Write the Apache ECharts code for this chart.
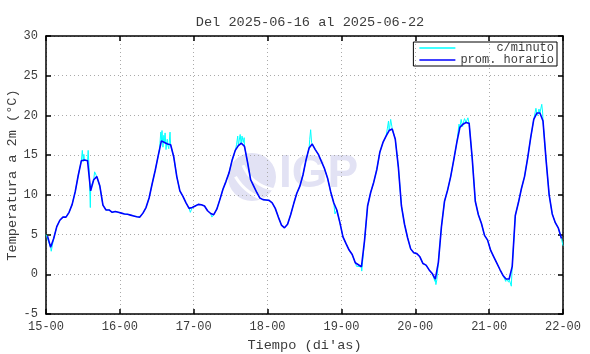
<!DOCTYPE html>
<html>
<head>
<meta charset="utf-8">
<script src="https://cdn.jsdelivr.net/npm/echarts/dist/echarts.min.js"></script>
<style>
  html, body { margin: 0; padding: 0; background: #fff; }
  #temp2m { width: 590px; height: 354px; }
</style>
</head>
<body>
<div id="temp2m"></div>
<script>
// promedio horario por dia (valor de cada hora, 00..23)
var dia15 = [4.8, 3.4, 4.5, 6.0, 6.8, 7.2, 7.2, 7.8, 8.8, 10.4, 12.5, 14.3, 14.4, 14.3, 10.5, 11.9, 12.3, 11.1, 8.7, 8.1, 8.1, 7.8, 7.9, 7.8];
var dia16 = [7.7, 7.6, 7.55, 7.45, 7.35, 7.25, 7.2, 7.7, 8.4, 9.6, 11.4, 13.1, 15.0, 16.8, 16.6, 16.4, 16.3, 14.8, 12.3, 10.5, 9.8, 9.0, 8.3, 8.4];
var dia17 = [8.6, 8.8, 8.75, 8.6, 8.0, 7.65, 7.5, 8.2, 9.4, 10.7, 11.7, 12.8, 14.4, 15.6, 16.2, 16.5, 16.1, 14.1, 11.9, 11.1, 10.3, 9.6, 9.4, 9.35];
var dia18 = [9.3, 9.0, 8.3, 7.2, 6.2, 5.85, 6.3, 7.5, 8.9, 10.2, 11.1, 12.5, 14.4, 15.9, 16.4, 15.7, 15.1, 14.2, 13.3, 12.1, 10.4, 9.0, 8.1, 6.5];
var dia19 = [4.7, 3.85, 3.05, 2.5, 1.45, 1.2, 0.95, 4.2, 8.6, 10.3, 11.6, 13.2, 15.4, 16.6, 17.4, 18.1, 18.3, 17.0, 13.5, 8.6, 6.3, 4.6, 3.2, 2.7];
var dia20 = [2.6, 2.2, 1.35, 1.15, 0.55, 0.1, -0.6, 1.5, 6.0, 9.2, 10.6, 12.3, 14.4, 16.6, 18.5, 18.9, 19.1, 19.0, 14.6, 9.2, 7.5, 6.4, 4.9, 4.3];
var dia21 = [3.0, 2.2, 1.4, 0.6, -0.15, -0.6, -0.6, 1.0, 7.4, 9.0, 10.8, 12.3, 14.6, 17.2, 19.5, 20.3, 20.3, 19.3, 14.4, 10.0, 7.6, 6.5, 5.8, 4.5];

// datos c/minuto que se separan del promedio [hora desde 15-00, temp]
var minutoExtra = [
    [0, 5.0], [1.7, 2.9],
    [11.8, 15.6], [12.1, 14.2], [12.3, 15.1], [13.7, 15.6], [14.0, 13.4], [14.4, 8.4], [14.8, 11.2], [15.8, 12.9],
    [36.9, 15.8], [37.3, 17.9], [37.7, 18.1], [38.0, 16.0], [38.3, 17.5], [38.7, 17.8], [39.0, 15.7], [39.4, 17.0], [39.9, 15.8], [40.3, 17.9], [40.7, 16.0], [46.9, 7.8],
    [53.9, 7.2], [61.9, 16.3], [62.3, 17.4], [62.7, 16.2], [63.1, 17.6], [63.4, 16.4], [63.7, 17.4], [64.1, 16.6], [64.4, 17.2],
    [85.7, 17.0], [86.0, 18.2], [86.3, 16.6], [88.7, 15.2], [93.9, 7.6],
    [100.9, 1.0], [102.6, 0.4], [103.0, 0.3], [110.9, 18.3], [111.3, 19.3], [111.7, 18.5], [112.0, 19.5], [112.4, 18.6],
    [126.4, -0.9], [126.7, -1.3], [127.0, -0.7], [134.2, 18.9], [134.9, 19.5], [135.4, 18.6], [136.0, 19.6], [136.6, 18.9], [137.1, 19.7],
    [149.4, -0.9], [149.9, -0.5], [150.4, -1.0], [150.9, -0.6], [151.2, -1.5], [159.2, 20.9], [159.7, 20.0], [160.2, 20.8], [160.7, 20.1], [161.1, 21.4], [161.4, 20.3],
    [168, 3.6]
];

var diaInicio = 15;
var yTicks = [-5, 30, 5];   // min, max, paso

var horario = dia15.concat(dia16, dia17, dia18, dia19, dia20, dia21);
// el promedio se dibuja a la mitad de cada hora
var serieHorario = horario.map(function (t, i) { return [i + 0.5, t]; });
var serieMinuto = serieHorario.concat(minutoExtra).sort(function (a, b) { return a[0] - b[0]; });

var fuente = 'Liberation Mono';
var gris = '#3c3c3c';
var borde = { show: true, onZero: false, lineStyle: { color: '#000', width: 1.5 } };
var marca = { show: true, inside: true, length: 5, lineStyle: { color: '#000', width: 1.5 } };
var rejilla = { show: true, lineStyle: { color: '#aaa', width: 1, type: [1, 3] } };

var myChart = echarts.init(document.getElementById('temp2m'));
var option = {
    animation: false,
    title: {
        text: 'Del 2025-06-16 al 2025-06-22',
        left: 305,
        top: 10,
        textAlign: 'center',
        textStyle: { fontFamily: fuente, fontSize: 13.6, fontWeight: 'normal', color: gris }
    },
    legend: {
        orient: 'vertical',
        right: 33,
        top: 42,
        borderColor: '#000',
        borderWidth: 1,
        padding: [0, 3, 0, 6],
        icon: 'rect',
        itemWidth: 36,
        itemHeight: 1.5,
        itemGap: 0,
        itemTextGap: 8,
        formatter: function (name) { return name.padStart(13); },
        textStyle: { fontFamily: fuente, fontSize: 12, color: gris, lineHeight: 11 },
        data: ['c/minuto', 'prom. horario']
    },
    grid: { left: 46, right: 27, top: 36, bottom: 40, outerBoundsMode: 'none', containLabel: false },
    graphic: [
        { type: 'circle', z: 0, silent: true, shape: { cx: 252, cy: 177, r: 24 }, style: { fill: '#e2e2f4' } },
        { type: 'arc', z: 0, silent: true, shape: { cx: 280, cy: 150, r: 40, startAngle: 1.75, endAngle: 2.75 }, style: { stroke: '#fff', lineWidth: 3, fill: null } },
        { type: 'arc', z: 0, silent: true, shape: { cx: 280, cy: 150, r: 52, startAngle: 1.85, endAngle: 2.6 }, style: { stroke: '#fff', lineWidth: 3, fill: null } },
        { type: 'text', z: 0, silent: true, style: { x: 279, y: 174, text: 'IGP', fill: '#e2e2f4', font: 'bold 46px "Liberation Sans"', textVerticalAlign: 'middle' } }
    ],
    xAxis: [
        {
            type: 'value',
            min: 0,
            max: 168,
            interval: 24,
            name: "Tiempo (di'as)",
            nameLocation: 'middle',
            nameGap: 24,
            nameTextStyle: { fontFamily: fuente, fontSize: 13.6, color: gris },
            axisLine: borde,
            axisTick: marca,
            axisLabel: {
                margin: 7,
                fontFamily: fuente,
                fontSize: 12,
                color: gris,
                formatter: function (v) { return (diaInicio + v / 24) + '-00'; }
            },
            splitLine: rejilla
        },
        {
            type: 'value',
            position: 'top',
            min: 0,
            max: 168,
            interval: 24,
            axisLine: borde,
            axisTick: marca,
            axisLabel: { show: false },
            splitLine: { show: false }
        }
    ],
    yAxis: [
        {
            type: 'value',
            min: yTicks[0],
            max: yTicks[1],
            interval: yTicks[2],
            name: 'Temperatura a 2m (°C)',
            nameLocation: 'middle',
            nameGap: 27,
            nameMoveOverlap: false,
            nameTextStyle: { fontFamily: fuente, fontSize: 13.6, color: gris },
            axisLine: borde,
            axisTick: marca,
            axisLabel: { margin: 8, fontFamily: fuente, fontSize: 12, color: gris },
            splitLine: rejilla
        },
        {
            type: 'value',
            position: 'right',
            min: yTicks[0],
            max: yTicks[1],
            interval: yTicks[2],
            axisLine: borde,
            axisTick: marca,
            axisLabel: { show: false },
            splitLine: { show: false }
        }
    ],
    series: [
        {
            name: 'c/minuto',
            type: 'line',
            symbol: 'none',
            color: '#00ffff',
            lineStyle: { width: 1, color: '#00ffff' },
            data: serieMinuto,
            z: 3
        },
        {
            name: 'prom. horario',
            type: 'line',
            symbol: 'none',
            color: '#0000ff',
            lineStyle: { width: 1.6, color: '#0000ff' },
            data: serieHorario,
            z: 4
        }
    ]
};
myChart.setOption(option);
</script>
</body>
</html>
